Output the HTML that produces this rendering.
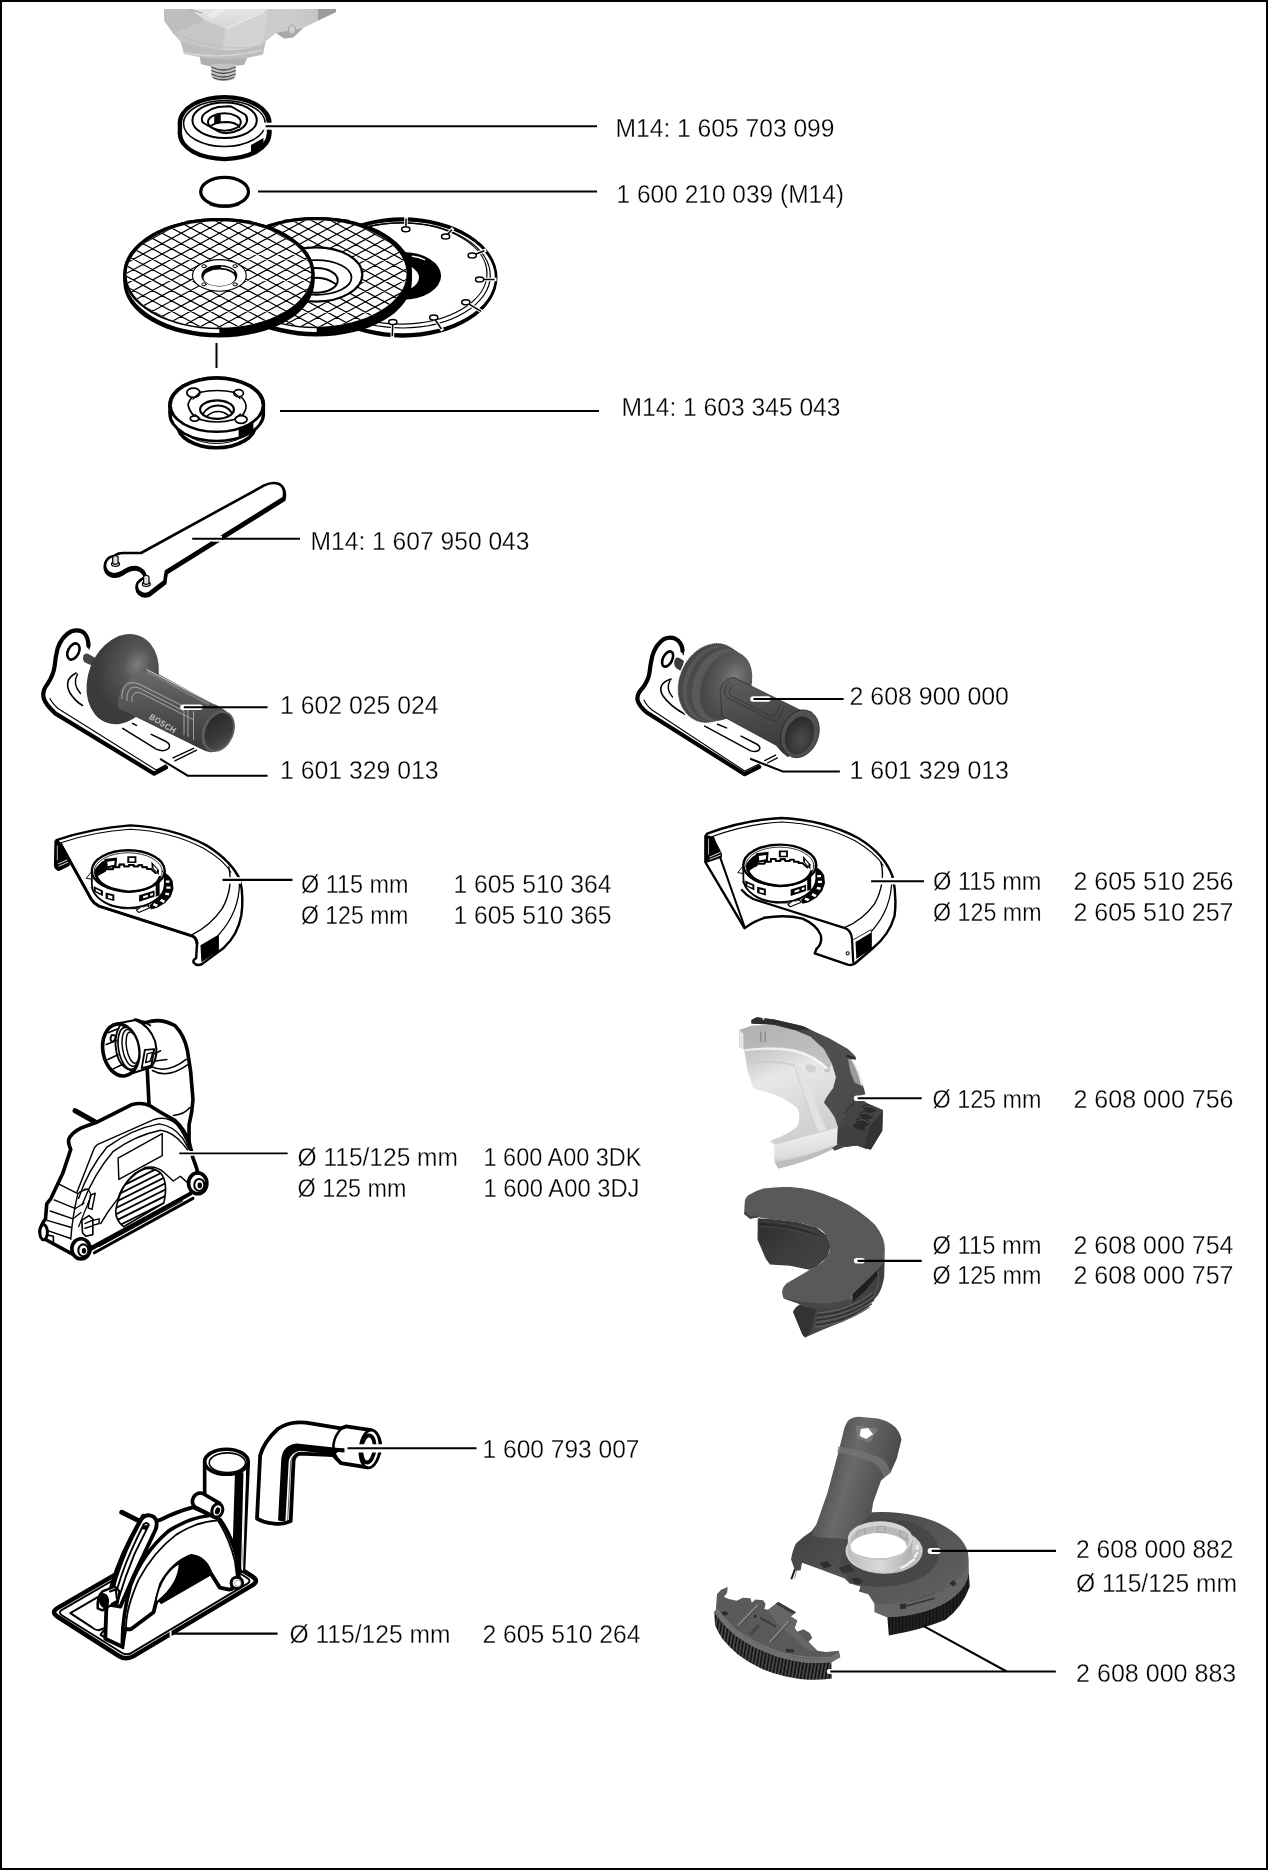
<!DOCTYPE html>
<html lang="en"><head><meta charset="utf-8"><title>Accessories</title>
<style>
html,body{margin:0;padding:0;background:#fff;}
svg{display:block;}
text{font-family:"Liberation Sans",sans-serif;font-size:26px;fill:#000;}
#labels text{stroke:#fff;stroke-width:0.3px;}
.ld{stroke:#000;stroke-width:2;fill:none;}
.k{stroke:#000;fill:none;stroke-linecap:round;stroke-linejoin:round;}
.w{stroke:#000;fill:#fff;stroke-linecap:round;stroke-linejoin:round;}
.b{fill:#000;stroke:none;}
</style></head><body>
<svg width="1268" height="1870" viewBox="0 0 1268 1870">
<rect x="0" y="0" width="1268" height="1870" fill="#fff"/>
<g id="gearhead">
<defs>
<linearGradient id="ghA" x1="0" y1="0" x2="1" y2="0"><stop offset="0" stop-color="#b4b4b4"/><stop offset="0.35" stop-color="#c8c8c8"/><stop offset="0.75" stop-color="#cdcdcd"/><stop offset="1" stop-color="#bebebe"/></linearGradient>
<linearGradient id="ghB" x1="0" y1="0" x2="0" y2="1"><stop offset="0" stop-color="#e4e4e4"/><stop offset="1" stop-color="#d6d6d6"/></linearGradient>
</defs>
<!-- lower flange -->
<path d="M180 40L184 54 200 57 201 64 211 66.500 244 65 247 58 263 54.500 266 40Z" fill="#bdbdbd"/>
<path d="M200 57Q222 62 247 58L244 65 211 66.500 201 64Z" fill="#b0b0b0"/>
<path d="M184 53Q222 60 263 50" stroke="#d6d6d6" stroke-width="1.500" fill="none"/>
<!-- thread -->
<path d="M211 64H236V74Q236 81 223.500 81Q211 81 211 74Z" fill="#c2c2c2"/>
<g stroke="#4d4d4d" stroke-width="1.300" fill="none">
<path d="M211.500 67Q223 73 235.500 67"/><path d="M211.500 70.500Q223 76.500 235.500 70.500"/><path d="M211.500 74Q223 80 235.500 74"/><path d="M213 77.500Q223 82 234 77.500"/>
</g>
<!-- main body -->
<path d="M164 9H336V12L303 28 298 33 293 37.500 284 38.500 276 33 266 41 262 45Q222 57 180 41L173 33 164.500 21Z" fill="url(#ghA)"/>
<path d="M318 9H336V12L318 20.500Z" fill="#9c9c9c"/>
<path d="M276 33L303 28 298 33 293 37.500 284 38.500Z" fill="#a9a9a9"/>
<ellipse cx="292" cy="29.500" rx="3.500" ry="4.500" fill="#cfcfcf" stroke="#a0a0a0" stroke-width="1"/>
<!-- facets -->
<path d="M190 9H268.500L263.500 12 225.700 29 205 20.500Z" fill="url(#ghB)"/>
<path d="M215 9H226L213 18 207 16Z" fill="#ececec"/>
<path d="M225.700 29L263.500 12 268.500 9 262 45Q240 51 222 50Z" fill="#d3d3d3"/>
<path d="M205 20.500L225.700 29 222 50Q198 47 180 41L173 33Z" fill="#c7c7c7"/>
<path d="M164 9H190L205 20.500 173 33 164.500 21Z" fill="#bebebe"/>
<path d="M226.500 28.600L263.500 12.300" stroke="#f4f4f4" stroke-width="1.600" stroke-dasharray="1.200 1" fill="none"/>
<path d="M173 33Q222 54 262 45" stroke="#a8a8a8" stroke-width="0.800" stroke-dasharray="1.500 1.500" fill="none"/>
<path d="M190 9.500L202 13" stroke="#a0a0a0" stroke-width="1.200"/>
</g>

<g id="flange">
<ellipse cx="224.650" cy="122.400" rx="46.900" ry="27.500" class="b"/><ellipse cx="224.650" cy="133.700" rx="46.900" ry="27.500" class="b"/><rect x="177.750" y="122.400" width="93.800" height="11.300" class="b"/>
<ellipse cx="224.400" cy="122.600" rx="42.300" ry="23.400" fill="#fff"/><ellipse cx="224.400" cy="133.500" rx="42.300" ry="23.400" fill="#fff"/><rect x="182.100" y="122.600" width="84.600" height="10.900" fill="#fff"/>
<!-- shaded side -->
<path d="M251 145L263.500 138V147.500L251 155Z" class="b"/>
<ellipse cx="224.400" cy="123.500" rx="40.900" ry="23" class="w" stroke-width="1.500"/>
<ellipse cx="224.600" cy="120.200" rx="32.200" ry="17.800" class="w" stroke-width="2"/>
<path d="M202 120.500Q201 116 206 112.500Q212 108 218 107L229 106.300Q231 106.300 233 107.500L245 114.500Q247.500 116.500 247 121Q246 126 240 129.500Q233 133 226 133.300Q221 133 218.500 131.500L203.500 123Q202.200 122 202 120.500Z" class="w" stroke-width="2"/>
<ellipse cx="224.400" cy="122" rx="16.400" ry="8.800" class="w" stroke-width="2"/>
<path d="M210.500 126.500Q214 122.500 225 122Q236 122 239.500 127" class="k" stroke-width="1.800"/>
<path d="M214.200 116.200Q217 114.800 220 114.500V122.200Q216 122.800 214.200 124.300Z" class="b"/>
<path d="M220 122.200V114.500" class="k" stroke-width="1.500"/>
<!-- leader halo + leader -->
<rect x="263" y="122.700" width="10" height="7" fill="#fff"/>
<path d="M265.500 126.200H597" class="ld" stroke-width="2.200"/>
</g>
<g id="oring">
<ellipse cx="224.600" cy="191.700" rx="23.900" ry="14.300" class="k" stroke-width="3.300"/>
<path d="M210 205.300Q224.600 210 239 205.300" class="k" stroke-width="0.800" stroke="#fff"/>
<path d="M258 191.500H597" class="ld" stroke-width="2.200"/>
</g>

<g id="disc3">
<ellipse cx="402.5" cy="277.5" rx="95" ry="60.2" class="b"/>
<ellipse cx="402.5" cy="277.3" rx="92.3" ry="55.9" fill="#fff"/>
<ellipse cx="402.5" cy="275.4" rx="87.8" ry="52.6" class="k" stroke-width="1.2"/>
<ellipse cx="401.0" cy="273.5" rx="86" ry="50.6" class="k" stroke-width="1.2"/>
<ellipse cx="402.5" cy="275.8" rx="38.6" ry="23.9" class="b"/>
<ellipse cx="394.5" cy="277.5" rx="24.5" ry="14.5" fill="#fff"/>
<path d="M412.5 256.3Q419.5 257 424.5 259.6" stroke="#fff" stroke-width="1.6" fill="none" stroke-linecap="round"/>
<path d="M405.8 229.2L406.1 216.6" stroke="#fff" stroke-width="3.6"/>
<path d="M405.8 229.2L406.1 218.6" stroke="#000" stroke-width="1.5"/>
<ellipse cx="405.8" cy="229.2" rx="4.1" ry="2.5" class="w" stroke-width="1.5"/>
<path d="M445.6 236.6L453.2 228.3" stroke="#fff" stroke-width="3.6"/>
<path d="M445.6 236.6L451.8 229.7" stroke="#000" stroke-width="1.5"/>
<ellipse cx="445.6" cy="236.6" rx="4.1" ry="2.5" class="w" stroke-width="1.5"/>
<path d="M472.2 255.5L486.2 250.0" stroke="#fff" stroke-width="3.6"/>
<path d="M472.2 255.5L484.4 250.8" stroke="#000" stroke-width="1.5"/>
<ellipse cx="472.2" cy="255.5" rx="4.1" ry="2.5" class="w" stroke-width="1.5"/>
<path d="M479.6 279.5L496.5 279.5" stroke="#fff" stroke-width="3.6"/>
<path d="M479.6 279.5L494.5 279.5" stroke="#000" stroke-width="1.5"/>
<ellipse cx="479.6" cy="279.5" rx="4.1" ry="2.5" class="w" stroke-width="1.5"/>
<path d="M465.8 302.2L482.9 312.3" stroke="#fff" stroke-width="3.6"/>
<path d="M465.8 302.2L481.1 311.3" stroke="#000" stroke-width="1.5"/>
<ellipse cx="465.8" cy="302.2" rx="4.1" ry="2.5" class="w" stroke-width="1.5"/>
<path d="M433.7 317.5L442.6 330.6" stroke="#fff" stroke-width="3.6"/>
<path d="M433.7 317.5L441.4 329.0" stroke="#000" stroke-width="1.5"/>
<ellipse cx="433.7" cy="317.5" rx="4.1" ry="2.5" class="w" stroke-width="1.5"/>
<path d="M392.8 321.9L392.3 338.2" stroke="#fff" stroke-width="3.6"/>
<path d="M392.8 321.9L392.3 336.2" stroke="#000" stroke-width="1.5"/>
<ellipse cx="392.8" cy="321.9" rx="4.1" ry="2.5" class="w" stroke-width="1.5"/>
</g>
<g id="disc2">
<ellipse cx="316.3" cy="272.6" rx="95.6" ry="55.6" class="b"/>
<ellipse cx="316.3" cy="281" rx="95.6" ry="55.6" class="b"/>
<rect x="220.70000000000002" y="272.6" width="191.2" height="8.4" class="b"/>
<clipPath id="d2l"><rect x="200" y="200" width="116.70000000000002" height="160"/></clipPath>
<ellipse cx="316.3" cy="276.4" rx="93.6" ry="55.6" fill="#fff" clip-path="url(#d2l)"/>
<ellipse cx="316.3" cy="272.6" rx="95.6" ry="55.6" class="b"/>
<ellipse cx="315.3" cy="273.5" rx="91.3" ry="53.2" fill="#fff"/>
<clipPath id="d2c"><ellipse cx="315.3" cy="273.5" rx="91.3" ry="53.2"/></clipPath>
<g clip-path="url(#d2c)"><path d="M221.3 119.2L411.3 222.8M221.3 129.6L411.3 233.2M221.3 140.0L411.3 243.6M221.3 150.4L411.3 254.0M221.3 160.8L411.3 264.4M221.3 171.2L411.3 274.8M221.3 181.6L411.3 285.2M221.3 192.0L411.3 295.6M221.3 202.4L411.3 306.0M221.3 212.8L411.3 316.4M221.3 223.2L411.3 326.8M221.3 233.6L411.3 337.2M221.3 244.0L411.3 347.6M221.3 254.4L411.3 358.0M221.3 264.8L411.3 368.4M221.3 275.2L411.3 378.8M221.3 285.6L411.3 389.2M221.3 296.0L411.3 399.6M221.3 306.4L411.3 410.0M221.3 316.8L411.3 420.4M221.3 327.2L411.3 430.8M221.3 224.4L411.3 120.8M221.3 234.8L411.3 131.2M221.3 245.2L411.3 141.6M221.3 255.6L411.3 152.0M221.3 266.0L411.3 162.4M221.3 276.4L411.3 172.8M221.3 286.8L411.3 183.2M221.3 297.2L411.3 193.6M221.3 307.6L411.3 204.0M221.3 318.0L411.3 214.4M221.3 328.4L411.3 224.8M221.3 338.8L411.3 235.2M221.3 349.2L411.3 245.6M221.3 359.6L411.3 256.0M221.3 370.0L411.3 266.4M221.3 380.4L411.3 276.8M221.3 390.8L411.3 287.2M221.3 401.2L411.3 297.6M221.3 411.6L411.3 308.0M221.3 422.0L411.3 318.4M221.3 432.4L411.3 328.8" stroke="#000" stroke-width="1.2" fill="none"/></g>
<ellipse cx="316.3" cy="274.5" rx="46" ry="27.1" class="w" stroke-width="2.2"/>
<ellipse cx="316.3" cy="277.5" rx="35.2" ry="17.3" class="w" stroke-width="1.8"/>
<ellipse cx="316.3" cy="280.4" rx="21.4" ry="12.3" class="w" stroke-width="2"/>
<path d="M297.3 285Q316.3 271 335.8 284" class="k" stroke-width="1.8"/>
</g>
<g id="disc1">
<ellipse cx="218.9" cy="273.6" rx="95.6" ry="55.6" class="b"/>
<ellipse cx="218.9" cy="282" rx="95.6" ry="55.6" class="b"/>
<rect x="123.30000000000001" y="273.6" width="191.2" height="8.4" class="b"/>
<clipPath id="d1l"><rect x="100" y="200" width="119.30000000000001" height="160"/></clipPath>
<ellipse cx="218.9" cy="277.4" rx="93.6" ry="55.6" fill="#fff" clip-path="url(#d1l)"/>
<ellipse cx="218.9" cy="273.6" rx="95.6" ry="55.6" class="b"/>
<ellipse cx="218.9" cy="274.5" rx="92.3" ry="53.2" fill="#fff"/>
<clipPath id="d1c"><ellipse cx="218.9" cy="274.5" rx="92.3" ry="53.2"/></clipPath>
<g clip-path="url(#d1c)"><path d="M123.9 118.8L313.9 222.3M123.9 129.2L313.9 232.7M123.9 139.6L313.9 243.1M123.9 150.0L313.9 253.5M123.9 160.4L313.9 263.9M123.9 170.8L313.9 274.3M123.9 181.2L313.9 284.7M123.9 191.6L313.9 295.1M123.9 202.0L313.9 305.5M123.9 212.4L313.9 315.9M123.9 222.8L313.9 326.3M123.9 233.2L313.9 336.7M123.9 243.6L313.9 347.1M123.9 254.0L313.9 357.5M123.9 264.4L313.9 367.9M123.9 274.8L313.9 378.3M123.9 285.2L313.9 388.7M123.9 295.6L313.9 399.1M123.9 306.0L313.9 409.5M123.9 316.4L313.9 419.9M123.9 326.8L313.9 430.3M123.9 222.8L313.9 119.3M123.9 233.2L313.9 129.7M123.9 243.6L313.9 140.1M123.9 254.0L313.9 150.5M123.9 264.4L313.9 160.9M123.9 274.8L313.9 171.3M123.9 285.2L313.9 181.7M123.9 295.6L313.9 192.1M123.9 306.0L313.9 202.5M123.9 316.4L313.9 212.9M123.9 326.8L313.9 223.3M123.9 337.2L313.9 233.7M123.9 347.6L313.9 244.1M123.9 358.0L313.9 254.5M123.9 368.4L313.9 264.9M123.9 378.8L313.9 275.3M123.9 389.2L313.9 285.7M123.9 399.6L313.9 296.1M123.9 410.0L313.9 306.5M123.9 420.4L313.9 316.9M123.9 430.8L313.9 327.3" stroke="#000" stroke-width="1.2" fill="none"/></g>
<ellipse cx="219.4" cy="275.4" rx="26.9" ry="15.8" class="w" stroke-width="1.1"/>
<ellipse cx="219.3" cy="275.7" rx="18" ry="10.8" class="b"/>
<ellipse cx="219.3" cy="277.8" rx="15.8" ry="8.3" fill="#fff"/>
<path d="M221 267.2Q229 267.6 234 271.5" stroke="#fff" stroke-width="1.2" fill="none"/>
<ellipse cx="204" cy="266.2" rx="2.2" ry="1.5" class="w" stroke-width="1"/>
<ellipse cx="235.1" cy="266.2" rx="2.2" ry="1.5" class="w" stroke-width="1"/>
<ellipse cx="204" cy="284.3" rx="2.2" ry="1.5" class="w" stroke-width="1"/>
<ellipse cx="235.1" cy="284.3" rx="2.2" ry="1.5" class="w" stroke-width="1"/>
</g>
<g id="nut">
<!-- neck -->
<ellipse cx="216.500" cy="424.600" rx="41" ry="25" class="b"/>
<ellipse cx="216.500" cy="422.500" rx="38.500" ry="23.500" fill="#fff"/>
<ellipse cx="216.500" cy="420.500" rx="38" ry="23" class="k" stroke-width="1"/>
<!-- body silhouette -->
<ellipse cx="216.700" cy="404.700" rx="48.400" ry="28.400" class="b"/>
<ellipse cx="216.700" cy="413.900" rx="48.400" ry="28.400" class="b"/>
<rect x="168.300" y="404.700" width="96.800" height="9.200" class="b"/>
<!-- side wall white -->
<ellipse cx="216.700" cy="413.600" rx="45.200" ry="26.200" fill="#fff"/>
<rect x="171.500" y="404.700" width="90.400" height="8.900" fill="#fff"/>
<path d="M238.600 428.500L253.400 421V431.500L238.600 438.500Z" class="b"/>
<!-- top face -->
<ellipse cx="216.700" cy="404.700" rx="48.400" ry="28.400" class="b"/>
<ellipse cx="216.700" cy="405.200" rx="44.900" ry="25.400" fill="#fff"/>
<!-- plate -->
<path d="M199 392.500Q217 388.500 235 392.500L241 396.500Q247 403 246 408Q244.500 414 240 417.500L234 419.500Q217 424.500 200 419.500L195 417Q189 411 188 404.500Q189 400.500 193 396Z" class="w" stroke-width="1.700"/>
<ellipse cx="193.400" cy="392.700" rx="6.600" ry="4.600" class="w" stroke-width="1.700"/>
<ellipse cx="238.600" cy="393.200" rx="4.800" ry="3.500" class="w" stroke-width="1.700"/>
<ellipse cx="194.500" cy="418.600" rx="4.200" ry="2.600" class="w" stroke-width="1.700"/>
<ellipse cx="241.100" cy="419.500" rx="6" ry="3.800" class="w" stroke-width="1.700"/>
<path d="M199.500 392.500Q195 397 193 399M234 392.500Q238 396 240 398.500M200 418.500Q197 416.500 195 414.500M235 418.500Q238 416.500 240.500 414" class="k" stroke-width="1.400" stroke="#fff"/>
<!-- centre hole -->
<ellipse cx="217" cy="409.600" rx="16.900" ry="9.200" class="w" stroke-width="2.200"/>
<path d="M203.500 413Q209 405.500 218 405.500Q227 405.500 231.500 412.500" class="k" stroke-width="1.800"/>
<path d="M207 416Q212 411.500 218 411.500Q224 411.500 228.500 415.500" class="k" stroke-width="1.600"/>
<path d="M280 411H599" class="ld" stroke-width="2.200"/>
</g>

<g id="wrench">
<path id="wrp" d="M264.200 485.400Q272 481.500 279 484Q286 487.500 283.500 497.800L166 571Q165 576 164.500 581L149 593Q143 595.500 139 591.500Q135.500 587.500 137.500 583Q141 578.500 146 577Q144 569 137 567.200Q130 566 122 572Q115 576 109.500 573Q103.500 569 105.500 562.500Q108 556.500 114 556Q118 552.500 125 553L141 553Z" fill="#000" stroke="#000" stroke-width="3.600" stroke-linejoin="round" transform="translate(0.300 2)"/>
<path d="M264.200 485.400Q272 481.500 279 484Q286 487.500 283.500 497.800L166 571Q165 576 164.500 581L149 593Q143 595.500 139 591.500Q135.500 587.500 137.500 583Q141 578.500 146 577Q144 569 137 567.200Q130 566 122 572Q115 576 109.500 573Q103.500 569 105.500 562.500Q108 556.500 114 556Q118 552.500 125 553L141 553Z" fill="#fff" stroke="#000" stroke-width="2.600" stroke-linejoin="round"/>
<!-- pins -->
<ellipse cx="115.500" cy="564" rx="4" ry="2.400" class="w" stroke-width="1.200"/>
<path d="M112.700 557.500Q112.700 555.700 115.400 555.700Q118.100 555.700 118.100 557.500V563.600Q115.400 565.200 112.700 563.600Z" fill="#ddd" stroke="#000" stroke-width="1.200"/>
<ellipse cx="146.300" cy="584" rx="4" ry="2.400" class="w" stroke-width="1.200"/>
<path d="M143.600 577.300Q143.600 575.500 146.300 575.500Q149 575.500 149 577.300V583.500Q146.300 585.100 143.600 583.500Z" fill="#ddd" stroke="#000" stroke-width="1.200"/>
<rect x="212" y="535.700" width="10" height="6" fill="#fff"/>
<path d="M192.200 538.700H300" class="ld" stroke-width="2.200"/>
</g>

<g id="handle1">
<defs>
<radialGradient id="h1f" cx="0.62" cy="0.3" r="0.55"><stop offset="0" stop-color="#7d7d7d"/><stop offset="0.35" stop-color="#565656"/><stop offset="1" stop-color="#3b3b3b"/></radialGradient>
<linearGradient id="h1g" x1="0" y1="0" x2="0" y2="1"><stop offset="0" stop-color="#6a6a6a"/><stop offset="0.35" stop-color="#585858"/><stop offset="1" stop-color="#3a3a3a"/></linearGradient>
<linearGradient id="h1e" x1="0" y1="0" x2="1" y2="1"><stop offset="0" stop-color="#262626"/><stop offset="0.6" stop-color="#3a3a3a"/><stop offset="1" stop-color="#555"/></linearGradient>
</defs>
<!-- bracket -->
<path d="M88.500 646Q88.500 638 84.200 633Q79 628.500 71 631.500Q62 636 57.600 648.500Q55.500 657 54.600 666.300Q53.500 675 47.500 684Q41.500 691.500 44 699Q46 705 55.600 713.600L154.200 773.700 166 767.500" class="k" stroke-width="4.200"/>
<path d="M88.500 646Q88.500 638 84.200 633" class="k" stroke-width="1.300" stroke="#fff"/>
<path d="M89.100 649Q89.400 639 84.200 633" class="k" stroke-width="1.300"/>
<path d="M50 698.500Q52 703 58 708.500L156.200 770 166 764.800" class="k" stroke-width="1.100"/>
<ellipse cx="73.400" cy="651.500" rx="5.400" ry="8.600" transform="rotate(27 73.400 651.500)" class="w" stroke-width="2.600"/>
<path d="M76 673Q63 680 70 693Q75 701 82.500 705.500" class="k" stroke-width="1.600"/>
<path d="M77.500 674Q72 684 80.500 693.500" class="k" stroke-width="1.400"/>
<path d="M122.700 728.400L156.200 749.100Q164 752.500 168.500 748.500Q171.500 744.500 166 741.500L151.300 734.300" class="k" stroke-width="1.500"/>
<path d="M132.500 723.400L136.500 725.400" class="k" stroke-width="1.500"/>
<path d="M174.900 760.900L196.600 750.100M172.900 757.900L193.600 748.300" class="k" stroke-width="1.300"/>
<!-- stud -->
<path d="M83.500 655.500Q85 652.500 88.500 654L98 659.500 95 667 85 662.500Q82 660 83.500 655.500Z" fill="#454545"/>
<!-- grip body -->
<path d="M140 664L213.400 703.700Q222 707 227 712L212 752.500Q206 752 200 748.500L116 707Z" fill="url(#h1g)"/>
<!-- flange -->
<ellipse cx="122.700" cy="679.100" rx="34.500" ry="46.500" transform="rotate(21 122.700 679.100)" fill="url(#h1f)"/>
<path d="M118 700Q121 684 130 679Q142 671 150 672L213 704 200 748 118 708Z" fill="url(#h1g)"/>
<path d="M146.500 669.500L213.400 703.700" stroke="#e8e8e8" stroke-width="0.900" fill="none"/>
<path d="M146.500 671.500L209 704.300" stroke="#777" stroke-width="2.500" fill="none"/>
<!-- groove pattern -->
<g stroke="#c9c9c9" stroke-width="0.700" fill="none">
<path d="M122 699Q121 688 128 683.500Q133 681.500 138 683.500L188 708.500V737"/>
<path d="M127 701Q126 692 131 688Q135 686 139 688L184 711V735"/>
<path d="M132 702Q131 696 135 693Q138 691.500 142 693.500L193 719.500"/>
<path d="M193.500 711V740"/>
</g>
<text transform="translate(148.500 718.500) rotate(31) scale(0.920 1)" style="font-size:8.500px;font-weight:bold;fill:#bdbdbd;letter-spacing:0.300px">BOSCH</text>
<!-- end -->
<ellipse cx="218.300" cy="731.300" rx="15.500" ry="21.500" transform="rotate(24 218.300 731.300)" fill="#5e5e5e"/>
<ellipse cx="218.800" cy="731.500" rx="13.200" ry="19.200" transform="rotate(24 218.800 731.500)" fill="url(#h1e)"/>
<!-- leaders -->
<path d="M183 707.300H200" stroke="#fff" stroke-width="5.500" stroke-linecap="round"/>
<path d="M183.800 707.300H267.600" class="ld" stroke-width="2.200"/>
<path d="M160.100 758.900L187.700 775.700H267.600" class="ld" stroke-width="2.200" stroke-linejoin="miter"/>
</g>

<g id="handle2">
<defs>
<radialGradient id="h2f" cx="0.6" cy="0.35" r="0.6"><stop offset="0" stop-color="#7c7c7c"/><stop offset="0.45" stop-color="#5c5c5c"/><stop offset="1" stop-color="#484848"/></radialGradient>
<linearGradient id="h2g" x1="0" y1="0" x2="0.300" y2="1"><stop offset="0" stop-color="#5f5f5f"/><stop offset="0.5" stop-color="#4c4c4c"/><stop offset="1" stop-color="#3a3a3a"/></linearGradient>
<radialGradient id="h2e" cx="0.6" cy="0.6" r="0.6"><stop offset="0" stop-color="#4c4c4c"/><stop offset="1" stop-color="#2b2b2b"/></radialGradient>
</defs>
<!-- bracket -->
<path d="M682.500 651Q682.500 645 678 640.500Q672 635.500 664 639Q656 644 652.200 656.300Q650.500 664 649.500 672.600Q648.500 680 643 687.500Q636.500 694 637.500 700Q639 706 646.800 712.500L744.700 774.200 759.200 766.900" class="k" stroke-width="4.200"/>
<path d="M682.500 651Q682.500 645 678 640.500" class="k" stroke-width="1.300" stroke="#fff"/>
<path d="M683.300 654.500Q683.500 646 678 640.500" class="k" stroke-width="1.300"/>
<path d="M644 700Q646 705 652 710L744.700 771 759.200 764" class="k" stroke-width="1.100"/>
<ellipse cx="667.600" cy="659" rx="4.600" ry="8.200" transform="rotate(27 667.600 659)" class="w" stroke-width="2.600"/>
<path d="M671 679Q656 684 663 696Q670 706 685 714.300" class="k" stroke-width="1.600"/>
<path d="M670 680.500Q665.500 689 672.500 697" class="k" stroke-width="1.400"/>
<path d="M704.800 726.100L750.200 750.600Q757 753 759.500 749.500Q761 746 755.600 743.500L741.100 736.100" class="k" stroke-width="1.500"/>
<path d="M717.500 724.300L726.600 727.900" class="k" stroke-width="1.500"/>
<path d="M764.700 760.600L775.600 755.100M767.400 763L777.400 757.900" class="k" stroke-width="1.300"/>
<!-- stud -->
<path d="M675 659Q676.500 656.500 679.500 658L684 661 681.500 671.500 676 668Q673 664.500 675 659Z" fill="#3a3a3a"/>
<!-- handle body with halo -->
<g stroke="#fff" stroke-width="3.200" stroke-linejoin="round">
<ellipse cx="711.500" cy="683" rx="32" ry="40.500" transform="rotate(22 711.500 683)" fill="#fff"/>
<path d="M724 676L799 709.500 776 745 722 716Z" fill="#fff"/>
<ellipse cx="800" cy="733.800" rx="18.500" ry="24.500" transform="rotate(20 800 733.800)" fill="#fff"/>
</g>
<g stroke="#222" stroke-width="0.700" stroke-dasharray="1.200 0.800">
<ellipse cx="711.500" cy="683" rx="32" ry="40.500" transform="rotate(22 711.500 683)" fill="#474747"/>
</g>
<ellipse cx="714" cy="683.500" rx="30" ry="39.500" transform="rotate(22 714 683.500)" fill="#565656"/>
<ellipse cx="717" cy="684" rx="28.500" ry="38.500" transform="rotate(22 717 684)" fill="#4a4a4a"/>
<ellipse cx="720.500" cy="685" rx="27" ry="37.500" transform="rotate(22 720.500 685)" fill="#5a5a5a"/>
<ellipse cx="726" cy="686" rx="24.500" ry="35.500" transform="rotate(22 726 686)" fill="url(#h2f)"/>
<path d="M720 690Q724 678 734 677.500L799 709.500Q806 713 812 712L788 757Q781 752 776 745.200L722 716Z" fill="url(#h2g)" stroke="#222" stroke-width="0.600"/>
<path d="M730 681Q726 684 724.500 692Q724.500 696 728 698L772 720.500Q777 721.500 779 718L784 706.500" stroke="#333" stroke-width="0.800" fill="none"/>
<path d="M733 685Q730 687 729 692.500Q729.500 695 732 696.500L771 716Q774.500 717 776 714L780 705" stroke="#333" stroke-width="0.800" fill="none"/>
<ellipse cx="800" cy="733.800" rx="18.500" ry="24.500" transform="rotate(20 800 733.800)" fill="#505050" stroke="#222" stroke-width="0.700"/>
<ellipse cx="799.500" cy="735.500" rx="14" ry="19.500" transform="rotate(20 799.500 735.500)" fill="url(#h2e)"/>
<!-- leaders -->
<path d="M753 698.900H768" stroke="#fff" stroke-width="5.500" stroke-linecap="round"/>
<path d="M753.500 698.900H843.600" class="ld" stroke-width="2.200"/>
<path d="M750.200 758.800L782.800 771.500H839.900" class="ld" stroke-width="2.200"/>
</g>

<g id="guard1" transform="translate(40 815) scale(0.173502)">
<!-- side wall silhouette -->
<path d="M95 145Q300 75 520 60Q760 70 960 175Q1110 270 1155 380Q1175 480 1160 580Q1140 690 1060 765L935 858Q905 875 885 850Q880 835 900 825L905 740Q900 700 870 695L340 525Q310 510 295 485L120 170Z" fill="#fff" stroke="#000" stroke-width="14" stroke-linejoin="round"/>
<!-- black patch on wall -->
<path d="M925 750L1028 690V785L930 848Z" class="b"/>
<path d="M1028 690V785" stroke="#000" stroke-width="6" fill="none"/>
<!-- wall lines -->
<path d="M1150 385Q1150 560 1030 690" class="k" stroke-width="7"/>
<path d="M1088 300Q1115 420 1050 540Q980 640 880 688" class="k" stroke-width="8"/>
<!-- top rim inner thin line -->
<path d="M120 160Q310 95 520 82Q750 92 940 190Q1060 260 1100 330" class="k" stroke-width="6"/>
<!-- left flap -->
<path d="M88 150L120 165 168 255 166 290 108 318Q88 312 85 292Z" fill="#000" stroke="#000" stroke-width="10" stroke-linejoin="round"/>
<path d="M104 282L160 258M106 296L162 272" stroke="#fff" stroke-width="5" fill="none"/>
<path d="M100 175V262" stroke="#fff" stroke-width="4" fill="none"/>
<!-- cut edge inner line (plate thickness) -->
<path d="M120 170L295 485Q310 510 340 525L870 695Q900 700 905 740" class="k" stroke-width="17"/>
<!-- collar ring -->
<g id="ringA" transform="translate(230.500 144.100) scale(0.454540)">
<!-- gear teeth -->
<path d="M1040 400Q1130 430 1175 520L1185 620 1150 720 1080 800 980 860 900 880 880 830 960 760 1020 640 1040 520Z" class="b"/>
<g fill="#fff"><path d="M1085 515h50v28h-50zM1095 590h52v28h-52zM1085 665l48 10-8 30-48-12zM1030 745l50 25-20 28-48-25zM940 800l50 20-18 30-50-22z"/></g>
<path d="M715 890L830 800 885 860 745 918Z" class="w" stroke-width="14"/>
<path d="M800 850L870 830" class="k" stroke-width="10"/>
<!-- left tab -->
<path d="M82 482L142 408 152 492Z" class="w" stroke-width="12"/>
<!-- outer wall -->
<path d="M150 390V560A462 300 0 0 0 1075 560V390Z" fill="#fff" stroke="#000" stroke-width="22"/>
<path d="M140 600Q200 760 400 840Q560 890 720 870" class="k" stroke-width="12"/>
<!-- front windows -->
<path d="M175 585L290 640V712L175 652Z" class="b"/><path d="M200 622L265 652V678L200 648Z" fill="#fff"/>
<path d="M325 665L435 690V775L325 745Z" class="b"/><path d="M355 698L410 710V748L355 735Z" fill="#fff"/>
<path d="M750 700L945 640V720L750 782Z" class="b"/><path d="M800 712L860 694V722L800 740ZM890 682L925 672V700L890 710Z" fill="#fff"/>
<path d="M960 500H1010V700L960 720Z" class="b"/>
<!-- top rim -->
<ellipse cx="612" cy="390" rx="462" ry="260" class="w" stroke-width="30"/>
<ellipse cx="612" cy="398" rx="432" ry="236" class="k" stroke-width="10"/>
<clipPath id="g1ring"><ellipse cx="612" cy="398" rx="430" ry="234"/></clipPath>
<g clip-path="url(#g1ring)">
<!-- back wall dark left -->
<path d="M150 480Q180 330 320 250L330 400Q250 440 215 500Z" class="b"/>
<path d="M310 240L470 222 462 335 322 362Z" class="b"/><path d="M345 275L440 262 435 315 352 332Z" fill="#fff"/>
<path d="M600 205H715V292H600Z" class="b"/><path d="M625 228H692V272H625Z" fill="#fff"/>
<path d="M905 272L1000 380V445L910 352Z" class="b"/><path d="M930 320L975 372V405L932 356Z" fill="#fff"/>
<!-- crenellation -->
<path d="M300 395L330 370H420V345H500V310H560V335H620V315H680V335H740V320H790V345H850V365H900L960 420" class="k" stroke-width="22" stroke-linejoin="miter"/>
</g>
<!-- hole front edge -->
<path d="M215 470Q300 380 612 360Q900 372 1005 478Q940 640 612 655Q300 640 215 470Z" fill="#fff"/>
<path d="M300 395L330 372H420V347H500V312H560V337H620V317H680V337H740V322H790V347H850V367H900L960 420" class="k" stroke-width="20" stroke-linejoin="miter"/>
<path d="M205 450Q260 620 612 655Q950 640 1012 470" class="k" stroke-width="32"/>
</g>

<path d="M1080 358H1160V396H1080Z" fill="#fff"/>
<path d="M1052 374H1455" stroke="#000" stroke-width="12"/>
</g>

<g id="guard2" transform="translate(695 805) scale(0.173502)">
<path d="M70 165Q290 85 500 75Q740 85 940 190Q1090 280 1138 410Q1165 520 1150 640Q1120 750 1020 830L920 915Q900 925 880 920L690 855 700 830Q735 800 725 750Q700 690 620 655Q520 630 400 650Q340 670 300 700L285 710 60 330V180Z" fill="#fff" stroke="#000" stroke-width="14" stroke-linejoin="round"/>
<!-- black patch -->
<path d="M925 790L1016 735V830L930 888Z" class="b"/>
<path d="M1016 735V830" stroke="#000" stroke-width="6" fill="none"/>
<path d="M915 775L1016 718" class="k" stroke-width="5"/>
<!-- wall lines -->
<path d="M1135 420Q1135 600 1016 730" class="k" stroke-width="7"/>
<path d="M1072 330Q1100 450 1035 570Q965 665 865 705" class="k" stroke-width="8"/>
<path d="M100 182Q300 108 500 98Q730 108 920 205Q1040 275 1085 350" class="k" stroke-width="6"/>
<!-- fold edge -->
<path d="M270 490Q300 525 335 542L860 708Q900 720 905 770L912 905" class="k" stroke-width="13"/>

<circle cx="880" cy="855" r="9" class="w" stroke-width="6"/>
<!-- left edge of cover -->
<path d="M105 188L287 706" class="k" stroke-width="12"/>
<!-- left flap -->
<path d="M62 178L102 186 150 280 150 300 62 330Z" fill="#000" stroke="#000" stroke-width="10" stroke-linejoin="round"/>
<path d="M84 300L148 272M84 314L148 288" stroke="#fff" stroke-width="5" fill="none"/>
<path d="M78 195V285" stroke="#fff" stroke-width="4" fill="none"/>
<g transform="translate(-20 25)">
<g id="ringB" transform="translate(230.500 144.100) scale(0.454540)">
<!-- gear teeth -->
<path d="M1040 400Q1130 430 1175 520L1185 620 1150 720 1080 800 980 860 900 880 880 830 960 760 1020 640 1040 520Z" class="b"/>
<g fill="#fff"><path d="M1085 515h50v28h-50zM1095 590h52v28h-52zM1085 665l48 10-8 30-48-12zM1030 745l50 25-20 28-48-25zM940 800l50 20-18 30-50-22z"/></g>
<path d="M715 890L830 800 885 860 745 918Z" class="w" stroke-width="14"/>
<path d="M800 850L870 830" class="k" stroke-width="10"/>
<!-- left tab -->
<path d="M82 482L142 408 152 492Z" class="w" stroke-width="12"/>
<!-- outer wall -->
<path d="M150 390V560A462 300 0 0 0 1075 560V390Z" fill="#fff" stroke="#000" stroke-width="22"/>
<path d="M140 600Q200 760 400 840Q560 890 720 870" class="k" stroke-width="12"/>
<!-- front windows -->
<path d="M175 585L290 640V712L175 652Z" class="b"/><path d="M200 622L265 652V678L200 648Z" fill="#fff"/>
<path d="M325 665L435 690V775L325 745Z" class="b"/><path d="M355 698L410 710V748L355 735Z" fill="#fff"/>
<path d="M750 700L945 640V720L750 782Z" class="b"/><path d="M800 712L860 694V722L800 740ZM890 682L925 672V700L890 710Z" fill="#fff"/>
<path d="M960 500H1010V700L960 720Z" class="b"/>
<!-- top rim -->
<ellipse cx="612" cy="390" rx="462" ry="260" class="w" stroke-width="30"/>
<ellipse cx="612" cy="398" rx="432" ry="236" class="k" stroke-width="10"/>
<clipPath id="g2ring"><ellipse cx="612" cy="398" rx="430" ry="234"/></clipPath>
<g clip-path="url(#g2ring)">
<!-- back wall dark left -->
<path d="M150 480Q180 330 320 250L330 400Q250 440 215 500Z" class="b"/>
<path d="M310 240L470 222 462 335 322 362Z" class="b"/><path d="M345 275L440 262 435 315 352 332Z" fill="#fff"/>
<path d="M600 205H715V292H600Z" class="b"/><path d="M625 228H692V272H625Z" fill="#fff"/>
<path d="M905 272L1000 380V445L910 352Z" class="b"/><path d="M930 320L975 372V405L932 356Z" fill="#fff"/>
<!-- crenellation -->
<path d="M300 395L330 370H420V345H500V310H560V335H620V315H680V335H740V320H790V345H850V365H900L960 420" class="k" stroke-width="22" stroke-linejoin="miter"/>
</g>
<!-- hole front edge -->
<path d="M215 470Q300 380 612 360Q900 372 1005 478Q940 640 612 655Q300 640 215 470Z" fill="#fff"/>
<path d="M300 395L330 372H420V347H500V312H560V337H620V317H680V337H740V322H790V347H850V367H900L960 420" class="k" stroke-width="20" stroke-linejoin="miter"/>
<path d="M205 450Q260 620 612 655Q950 640 1012 470" class="k" stroke-width="32"/>
</g>
</g>
<path d="M1050 420H1160V458H1050Z" fill="#fff"/>
<path d="M1015 439H1320" stroke="#000" stroke-width="12"/>
</g>

<g id="dustguard">
<!-- upper part: elbow -->
<g transform="translate(25 1005) scale(0.157729)">
<!-- pipe body -->
<path d="M700 95Q760 115 770 110Q860 80 950 130Q1010 190 1030 290L1050 420 1065 600Q1060 680 1040 760V900H800L775 410Z" fill="#fff" stroke="#000" stroke-width="23" stroke-linejoin="round"/>
<!-- collar -->
<path d="M560 122L700 95Q790 130 825 230Q850 330 800 395L640 445Z" fill="#fff" stroke="#000" stroke-width="13" stroke-linejoin="round"/>
<ellipse cx="607" cy="285" rx="113" ry="166" transform="rotate(-10 607 285)" class="w" stroke-width="23"/>
<ellipse cx="655" cy="275" rx="62" ry="135" transform="rotate(-10 655 275)" class="w" stroke-width="10.4"/>
<ellipse cx="668" cy="272" rx="50" ry="118" transform="rotate(-10 668 272)" class="w" stroke-width="9.1"/>
<ellipse cx="682" cy="270" rx="38" ry="100" transform="rotate(-10 682 270)" class="w" stroke-width="9.1"/>
<path d="M600 135Q560 200 580 300Q600 400 690 420" class="k" stroke-width="11.7"/>
<path d="M515 250L580 225M525 345L590 315M560 405L620 375M530 175L590 150" class="k" stroke-width="10.4"/>
<path d="M550 190Q535 215 550 235Q575 225 575 195Z" class="k" stroke-width="11.7"/>
<!-- latch -->
<path d="M760 285L820 280 800 385 740 400Z" class="w" stroke-width="11.7"/>
<path d="M775 310L810 300 795 355 765 365Z" class="k" stroke-width="9.1"/>
<path d="M820 310L860 290M825 355L900 345" class="k" stroke-width="9.1"/>
<path d="M760 110L795 130" class="k" stroke-width="10.4"/>
<!-- ring below elbow -->
<path d="M800 390Q900 440 1022 345" class="k" stroke-width="10.4"/>
<path d="M808 415Q905 470 1030 380" class="k" stroke-width="10.4"/>
<path d="M940 700Q1010 695 1045 650" class="k" stroke-width="9.1"/>
<!-- stud -->
<path d="M318 670L445 742" stroke="#000" stroke-width="33" stroke-linecap="round"/>
</g>
<!-- lower part: housing -->
<g transform="translate(25 1110) scale(0.157729)">
<path d="M450 80L680 -35Q740 -50 790 -28Q880 30 950 65Q1010 120 1040 200L1050 240Q1060 300 1085 360L1100 410 1050 530 420 880 330 930 110 810 95 770Q100 730 130 690L138 595 165 560 240 400 290 250Q265 200 285 170Q320 125 380 105Z" fill="#fff" stroke="#000" stroke-width="23" stroke-linejoin="round"/>
<!-- contours -->
<path d="M330 520L440 240Q455 215 480 210L820 60Q900 35 960 90Q1010 150 1040 240" class="k" stroke-width="9.1"/>
<path d="M340 560Q400 380 520 235Q680 120 850 88Q940 100 1000 180L1040 250" class="k" stroke-width="9.1"/>
<path d="M362 600Q440 400 560 262Q700 160 860 128Q940 140 1000 215L1030 252" class="k" stroke-width="9.1"/>
<path d="M590 305L870 150V290L595 440Z" class="w" stroke-width="9.1"/>
<!-- vent -->
<clipPath id="dgv"><path d="M575 640Q600 480 700 400Q790 340 860 400Q910 460 880 590L625 740Q575 700 575 640Z"/></clipPath>
<path d="M575 640Q600 480 700 400Q790 340 860 400Q910 460 880 590L625 740Q575 700 575 640Z" class="w" stroke-width="10.4"/>
<g clip-path="url(#dgv)" stroke="#000" stroke-width="11.7">
<path d="M560 470L920 290M560 510L920 330M560 550L920 370M560 590L920 410M560 630L920 450M560 670L920 490M560 710L920 530M560 750L920 570"/>
</g>
<path d="M480 720L530 640 590 560Q620 450 760 365Q830 350 880 395L940 450 985 420 1040 470" class="k" stroke-width="9.1"/>
<!-- base -->
<path d="M420 870L1045 530M440 905L1065 560" class="k" stroke-width="19"/>
<path d="M470 865L1000 575" class="k" stroke-width="6.5"/>
<!-- ribs -->
<path d="M215 470L335 530M185 570L320 625M160 640L305 690M140 700L295 745M130 760L290 815M335 530Q300 680 290 820" class="k" stroke-width="9.1"/>
<path d="M335 530L385 500M320 625L375 590M305 690L355 650M345 520L400 500 420 540 380 640 340 740" class="k" stroke-width="7.8"/>
<path d="M415 540L445 528 425 630 400 620Z" class="k" stroke-width="9.1"/>
<path d="M360 700L405 670 430 690V790L385 800 365 780Z" class="w" stroke-width="10.4"/>
<path d="M380 720L425 700M380 750L428 735M430 700L470 690 470 720 435 730" class="k" stroke-width="9.1"/>
<path d="M130 790L180 800V840" class="k" stroke-width="10.4"/>
<!-- wheels -->
<ellipse cx="1095" cy="465" rx="58" ry="66" class="w" stroke-width="23"/>
<ellipse cx="1105" cy="475" rx="32" ry="38" class="w" stroke-width="13"/>
<ellipse cx="1108" cy="478" rx="14" ry="18" fill="#000"/>
<ellipse cx="355" cy="880" rx="58" ry="64" class="w" stroke-width="23"/>
<ellipse cx="370" cy="890" rx="32" ry="38" class="w" stroke-width="13"/>
<ellipse cx="374" cy="893" rx="14" ry="18" fill="#000"/>
<ellipse cx="118" cy="775" rx="24" ry="48" class="w" stroke-width="19"/>
<path d="M1030 275H1075" stroke="#fff" stroke-width="30"/>
<path d="M978 275H1665" stroke="#000" stroke-width="12.500"/>
</g>
</g>

<g id="guard3dA" transform="translate(730 1010) scale(0.134070)">
<defs>
<linearGradient id="gaL" x1="0" y1="0" x2="0.300" y2="1"><stop offset="0" stop-color="#a2a2a2"/><stop offset="0.25" stop-color="#c8c8c8"/><stop offset="0.5" stop-color="#e8e8e8"/><stop offset="1" stop-color="#d0d0d0"/></linearGradient>
<linearGradient id="gaD" x1="0" y1="0" x2="1" y2="1"><stop offset="0" stop-color="#353535"/><stop offset="0.4" stop-color="#505050"/><stop offset="1" stop-color="#464646"/></linearGradient>
<linearGradient id="gaB" x1="0" y1="0" x2="0.200" y2="1"><stop offset="0" stop-color="#f4f4f4"/><stop offset="0.7" stop-color="#dedede"/><stop offset="1" stop-color="#b5b5b5"/></linearGradient>
</defs>
<!-- light interior -->
<path d="M70 150L160 118 330 110 480 150 600 200 700 290 760 400 790 500 770 580 720 650 700 690 740 740 780 800 805 880 330 1010 300 990 310 970Q430 930 500 870Q535 800 500 730Q430 670 330 630L230 600Q175 590 170 575L130 450 105 290 70 275Z" fill="url(#gaL)"/>
<path d="M70 150L160 118 330 110 480 150 600 200 700 290 760 400 740 440Q640 330 480 290Q300 260 110 290L70 275Z" fill="#b4b4b4" opacity="0.750"/>
<path d="M110 300Q300 275 480 305Q640 345 735 450" stroke="#fafafa" stroke-width="16" fill="none" opacity="0.800"/>
<path d="M150 400Q320 370 480 410L560 640Q600 780 660 900" stroke="#cdcdcd" stroke-width="12" fill="none"/>
<path d="M520 400Q600 520 640 700Q680 820 720 890L660 910Q600 780 560 640L480 410Z" fill="#e2e2e2"/>
<path d="M560 410Q600 395 640 425Q650 465 600 470Q560 455 560 410Z" fill="#d2d2d2"/>
<ellipse cx="725" cy="450" rx="22" ry="14" fill="#c4c4c4"/>
<path d="M70 150L100 175V285L70 275Z" fill="#e6e6e6"/>
<path d="M230 165V235M262 165V235" stroke="#555" stroke-width="5"/>
<path d="M215 165H280M215 238H280" stroke="#999" stroke-width="3"/>
<!-- bottom band -->
<path d="M300 978L335 1005 805 878 800 1000 760 1040Q620 1110 480 1150L360 1182 330 1130 322 1010Z" fill="url(#gaB)"/>
<path d="M300 978L335 1005 330 1130 322 1012Z" fill="#fafafa"/>
<path d="M335 1135Q560 1100 770 1010L760 1040Q620 1110 480 1150L360 1182Z" fill="#bdbdbd"/>
<!-- dark band -->
<path d="M160 75L200 55 330 70 540 120 740 210 880 290 935 345 940 372 905 365 960 470 1000 590 1010 628 950 645 1030 700 1140 745 1135 900 1050 1040 1000 1030 950 1010 860 1020 780 1050 760 1030 805 1000 805 875 780 800 740 740 700 690 720 650 770 580 790 500 760 400 700 290 600 200 480 150 330 110 160 100Z" fill="url(#gaD)"/>
<path d="M160 75L200 55 330 70 540 120 600 145 480 150 330 110 160 100Z" fill="#2e2e2e"/>
<circle cx="250" cy="66" r="8" fill="#eee"/>
<!-- light strip on right -->
<path d="M880 368L915 365 965 470 990 570 930 540 900 470Z" fill="#9a9a9a"/>
<path d="M912 372Q960 450 985 560" stroke="#f2f2f2" stroke-width="14" fill="none"/>
<path d="M870 340L935 362" stroke="#222" stroke-width="14"/>
<!-- block -->
<path d="M950 660L1030 700 1140 745 1135 900 1050 1040 1000 1030 950 1010 860 1020 800 1000 805 875Z" fill="#444"/>
<path d="M1040 870L1138 760 1135 900 1050 1040 1000 1030Z" fill="#333"/>
<path d="M860 870L1040 880 1000 1030 950 1010 860 1020 800 1000 805 880Z" fill="#3f3f3f"/>
<g fill="#2a2a2a"><ellipse cx="1040" cy="735" rx="50" ry="28" transform="rotate(15 1040 735)"/><ellipse cx="1015" cy="785" rx="52" ry="28" transform="rotate(15 1015 785)"/><ellipse cx="990" cy="835" rx="52" ry="28" transform="rotate(15 990 835)"/><ellipse cx="965" cy="870" rx="48" ry="22" transform="rotate(15 965 870)"/></g>
<g fill="none" stroke="#5c5c5c" stroke-width="7"><path d="M1000 725Q1040 705 1085 740"/><path d="M975 775Q1015 755 1062 790"/><path d="M948 825Q990 805 1036 842"/></g>
<path d="M855 770L925 690" stroke="#222" stroke-width="12" stroke-dasharray="6 5"/>
<!-- leader -->
<path d="M945 658H985" stroke="#fff" stroke-width="42" stroke-linecap="round"/>
<path d="M952 658H1430" stroke="#000" stroke-width="16"/>
</g>

<g id="guard3dB" transform="translate(730 1175) scale(0.134070)">
<defs>
<linearGradient id="gbC" x1="0" y1="0" x2="1" y2="1"><stop offset="0" stop-color="#2c2c2c"/><stop offset="0.5" stop-color="#3c3c3c"/><stop offset="1" stop-color="#444"/></linearGradient>
<linearGradient id="gbS" x1="0" y1="0" x2="0" y2="1"><stop offset="0" stop-color="#3a3a3a"/><stop offset="1" stop-color="#484848"/></linearGradient>
</defs>
<!-- side wall -->
<path d="M1155 560L1150 760Q1135 850 1100 900Q1050 960 1000 1000Q930 1050 850 1090L700 1150 560 1212 540 1190 470 1020 490 990 520 965 900 960 910 885 1150 640Z" fill="url(#gbS)"/>
<path d="M470 1020L490 990 520 965 560 985 640 1000 610 1160 560 1212 540 1190Z" fill="#333"/>
<g fill="none" stroke="#5f5f5f" stroke-width="9">
<path d="M650 1030Q900 1010 1060 880"/><path d="M645 1065Q900 1045 1080 900"/><path d="M640 1100Q890 1075 1075 935"/><path d="M635 1135Q860 1110 1040 985"/>
</g>
<g fill="none" stroke="#2e2e2e" stroke-width="9">
<path d="M650 1047Q900 1028 1070 890"/><path d="M645 1082Q895 1060 1078 918"/><path d="M638 1118Q875 1093 1058 960"/>
</g>
<path d="M1105 720Q1120 800 1075 900" stroke="#555" stroke-width="10" fill="none"/>
<path d="M915 890L1000 810 1092 718 1102 745 1015 855 918 945Z" fill="#1f1f1f"/>
<!-- cavity -->
<path d="M212 328L330 335 500 355 640 395 720 455 745 530 720 610 640 680 590 702 450 672 300 662 270 620 210 480Z" fill="url(#gbC)" stroke="#3b3b3b" stroke-width="10"/>
<path d="M215 345Q420 350 640 420M215 385Q420 385 660 470" stroke="#474747" stroke-width="7" fill="none"/>
<path d="M215 365Q420 368 650 445" stroke="#262626" stroke-width="7" fill="none"/>
<!-- top face -->
<path d="M110 200Q115 165 140 150Q190 115 250 100Q350 85 450 90Q540 95 620 115Q710 140 800 180Q890 220 960 270Q1030 320 1080 370Q1120 420 1140 470Q1155 510 1155 560L1150 645Q1130 675 1100 705L1000 805 910 885 900 962Q800 985 700 992L560 982 520 962 400 922Q385 890 390 860Q400 830 420 810L540 740 640 680Q700 650 720 610Q750 570 745 530Q740 480 720 450Q690 410 640 390Q570 365 500 352L330 332 210 316 150 326 105 290Z" fill="#595959"/>
<path d="M400 922L520 962 560 982 700 992Q800 985 900 962L905 925Q800 955 700 960L570 950Z" fill="#474747"/>
<path d="M105 290L150 326 210 316 212 300 155 308 112 272Z" fill="#444"/>
<!-- leader -->
<path d="M945 640H985" stroke="#fff" stroke-width="42" stroke-linecap="round"/>
<path d="M952 640H1430" stroke="#000" stroke-width="16"/>
</g>

<g id="cutguard" transform="translate(40 1440) scale(0.189274)">
<!-- base plate -->
<path d="M93 934Q55 910 94 887L730 519Q769 496 807 520L1122 721Q1160 745 1121 768L494 1142Q455 1165 417 1141Z" fill="#fff" stroke="#000" stroke-width="24" stroke-linejoin="round"/>
<path d="M117 927Q92 911 118 896L742 535Q768 520 793 536L1095 729Q1120 745 1094 760L483 1125Q457 1140 432 1124Z" class="k" stroke-width="10"/>
<path d="M160 915L400 775 600 900 310 1005Q290 1005 275 990Z" class="w" stroke-width="10.8"/>
<path d="M320 1030Q330 1005 360 1000L430 1060 440 1100Z" class="w" stroke-width="10.8"/>
<!-- pipe -->
<path d="M870 110V330L1000 520 1050 700 1075 690 1100 120Z" fill="#fff" stroke="#000" stroke-width="19.2" stroke-linejoin="round"/>
<path d="M1030 175L1075 170 1062 690 1040 700 1018 560Z" class="b"/>
<path d="M1086 150L1070 690" stroke="#fff" stroke-width="6"/>
<ellipse cx="985" cy="115" rx="115" ry="66" class="w" stroke-width="19.2"/>
<ellipse cx="990" cy="120" rx="96" ry="52" class="w" stroke-width="8.4"/>
<!-- guard shell silhouette -->
<path d="M345 1050L350 900Q370 760 440 600Q490 490 545 400Q600 440 640 420Q720 380 810 355L950 420Q1010 500 1040 620L1052 735Q1030 790 1000 790L950 780 900 700Q870 620 800 612Q700 650 640 760L610 870 600 910 480 1000H450L435 1092Z" fill="#fff" stroke="#000" stroke-width="20.4" stroke-linejoin="round"/>
<!-- arch interior -->
<path d="M740 655Q770 625 800 612Q840 608 870 640L905 715 640 868 625 850Q700 800 740 655Z" class="b"/>
<path d="M610 870Q615 790 665 715Q700 670 738 650Q735 760 625 850Z" class="w" stroke-width="9.6"/>
<!-- front face edge -->
<path d="M436 1090Q430 950 478 770Q540 600 680 480Q790 410 890 400" class="k" stroke-width="19.2"/>
<path d="M455 1000Q450 900 520 740Q600 590 720 500Q830 430 940 425" class="k" stroke-width="9.6"/>
<path d="M940 425Q1000 520 1030 640L1040 720" class="k" stroke-width="9.6"/>
<!-- hinge -->
<circle cx="1040" cy="755" r="30" class="w" stroke-width="16.8"/>
<circle cx="1045" cy="757" r="17" fill="#fff" stroke="#999" stroke-width="4.8"/>
<!-- boss -->
<path d="M812 300Q835 270 865 285L950 335 920 405 820 355Q795 335 812 300Z" class="w" stroke-width="19.2"/>
<ellipse cx="937" cy="372" rx="28" ry="36" transform="rotate(20 937 372)" class="w" stroke-width="15.6"/>
<ellipse cx="938" cy="374" rx="13" ry="19" transform="rotate(20 938 374)" class="b"/>
<!-- stud -->
<path d="M432 382L520 426" stroke="#000" stroke-width="26" stroke-linecap="round"/>
<!-- slotted bar -->
<path d="M535 420Q560 385 600 405Q625 425 612 470Q560 580 490 730L425 880 365 870Q390 730 455 580Q495 490 535 420Z" class="w" stroke-width="20.4"/>
<path d="M548 445Q565 430 575 448Q540 520 500 600Q450 720 415 840L395 835Q430 700 480 590Q515 510 548 445Z" class="w" stroke-width="10"/>
<path d="M545 450L575 450 565 475 535 470Z" class="b"/>
<!-- wing nut -->
<path d="M305 890Q300 830 330 800L395 775 420 800 410 860 360 880 330 900Z" class="w" stroke-width="13.2"/>
<ellipse cx="338" cy="848" rx="27" ry="40" transform="rotate(-10 338 848)" class="b"/>
<path d="M370 800L400 790 408 850 380 865" class="k" stroke-width="10.8"/>
<!-- leader -->
<path d="M690 1008V1040" stroke="#fff" stroke-width="10"/>
<path d="M697 1023H1255" stroke="#000" stroke-width="11.500"/>
</g>

<g id="elbow" transform="translate(245 1405) scale(0.126183)">
<path d="M95 900L120 400Q150 290 260 190Q330 145 400 140Q460 135 520 145L760 185 800 170 1000 200Q1060 230 1070 300Q1075 370 1050 420Q1020 480 970 495L760 460 735 435 700 398 440 385Q395 390 385 440L362 920Q300 950 230 940Q140 930 95 900Z" fill="#fff" stroke="#000" stroke-width="30" stroke-linejoin="round"/>
<path d="M262 915L288 420Q300 350 345 325Q375 305 410 305L740 340 790 343 790 376 740 372 700 395 440 362Q370 370 347 440L320 925Z" class="b"/>
<path d="M338 915L362 450Q375 385 440 375L700 405" class="k" stroke-width="5" stroke="#000"/>
<path d="M765 185Q710 240 700 320Q700 400 760 460" class="k" stroke-width="20"/>

<ellipse cx="990" cy="348" rx="78" ry="150" transform="rotate(6 990 348)" class="w" stroke-width="22"/>
<ellipse cx="975" cy="348" rx="52" ry="108" transform="rotate(6 975 348)" class="w" stroke-width="30"/>
<path d="M790 312H1090V376H790Z" fill="#fff"/>
<path d="M812 343H1835" stroke="#000" stroke-width="17"/>
</g>

<g id="hood">
<defs>
<linearGradient id="hdT" x1="0" y1="0.200" x2="1" y2="0.600"><stop offset="0" stop-color="#383838"/><stop offset="0.45" stop-color="#6a6a6a"/><stop offset="0.8" stop-color="#505050"/><stop offset="1" stop-color="#3c3c3c"/></linearGradient>
<linearGradient id="hdP" x1="0" y1="0" x2="1" y2="1"><stop offset="0" stop-color="#3e3e3e"/><stop offset="0.5" stop-color="#555"/><stop offset="1" stop-color="#636363"/></linearGradient>
<linearGradient id="hdR" x1="0" y1="0" x2="1" y2="0"><stop offset="0" stop-color="#bdbdbd"/><stop offset="0.5" stop-color="#d9d9d9"/><stop offset="1" stop-color="#b0b0b0"/></linearGradient>
<pattern id="brA" width="9" height="40" patternUnits="userSpaceOnUse"><rect width="9" height="40" fill="#111"/><rect x="6" width="1.600" height="40" fill="#4a4a4a"/></pattern>
<pattern id="brB" width="11" height="40" patternUnits="userSpaceOnUse" patternTransform="rotate(-4)"><rect width="11" height="40" fill="#0c0c0c"/><rect x="7" width="2.200" height="40" fill="#bbb"/></pattern>
</defs>
<g transform="translate(780 1405) scale(0.157729)">
<!-- pin -->
<path d="M95 1040L72 1105" stroke="#111" stroke-width="12"/>
<path d="M108 1040L92 1100" stroke="#888" stroke-width="6"/>
<!-- brush -->
<path d="M680 1340A545 293 0 0 0 1196 1045L1203 1150Q1160 1275 1050 1362Q900 1425 690 1462Z" fill="url(#brA)"/>
<!-- plate -->
<path d="M590 680A545 293 0 0 1 1195 968V1053A545 293 0 0 1 680 1346L600 1312V1262L560 1200 500 1182 510 1150 440 1130 410 1100 250 1040 140 1000 130 1050H95L70 980Q80 920 100 880Q150 830 200 800L230 760Z" fill="url(#hdP)"/>
<path d="M1195 968A545 293 0 0 1 650 1261L600 1262V1312L680 1346A545 293 0 0 0 1195 1053Z" fill="#656565"/>
<path d="M440 1130Q640 1180 840 1120Q1000 1060 1010 930Q1000 800 820 740Q700 715 590 720L420 860 380 1000Z" fill="#474747"/>
<path d="M760 1262L800 1258 800 1290 760 1295ZM1075 1130L1100 1110 1120 1135 1095 1150ZM250 1000L300 990 330 1020 280 1035ZM450 1100L500 1095 530 1125 480 1140Z" fill="#2e2e2e"/>
<path d="M800 1275L980 1225" stroke="#333" stroke-width="10"/>
<path d="M830 1245Q920 1215 990 1190" stroke="#2c2c2c" stroke-width="4" stroke-dasharray="6 8" fill="none"/>
<path d="M370 1030L440 1010 470 1050 400 1070Z" fill="#333"/>
<!-- tube -->
<path d="M430 100Q460 75 500 75L620 85Q690 100 730 140Q765 180 770 220L740 340 700 430 660 462 640 480 590 620 580 690 420 850 260 840 200 830 230 760 300 560 370 300 410 140Z" fill="url(#hdT)"/>
<path d="M370 262Q500 285 640 335Q690 370 700 430L660 462Q640 395 590 365Q480 320 362 300Z" fill="#777" opacity="0.700"/>
<path d="M480 130L620 150 572 236 490 214Z" fill="#7a7a7a"/>
<path d="M512 152L560 146 590 186 546 216 506 196Z" fill="#fff"/>
<!-- ring -->
<ellipse cx="660" cy="925" rx="245" ry="145" fill="#cfcfcf"/>
<path d="M700 1068Q860 1050 900 950L870 900 800 1000Z" fill="#bdbdbd"/>
<g fill="#f4f4f4"><path d="M760 1030l50-28 8 12-50 28zM810 1000l40-30 8 12-40 30zM845 962l25-35 10 10-25 35zM862 915l8-30 12 5-8 30z"/></g>
<path d="M430 850A205 112 0 0 1 840 850V930A205 120 0 0 1 430 930Z" fill="url(#hdR)"/>
<ellipse cx="635" cy="850" rx="205" ry="112" fill="#d4d4d4"/>
<ellipse cx="632" cy="862" rx="185" ry="96" fill="#b9b9b9"/>
<g fill="none" stroke="#9a9a9a" stroke-width="5"><path d="M490 800l50-15v40l-50 18zM620 770h45v38h-45zM760 795l50 20v38l-50-20z"/></g>
<ellipse cx="625" cy="900" rx="178" ry="88" fill="#fff"/>
<path d="M447 900A178 88 0 0 0 803 900A178 70 0 0 1 447 900Z" fill="#c6c6c6"/>
<ellipse cx="625" cy="893" rx="176" ry="76" fill="#fff"/>
<!-- leader 1 -->
<path d="M955 925H1000" stroke="#fff" stroke-width="38" stroke-linecap="round"/>
<path d="M962 925H1750" stroke="#000" stroke-width="14"/>
</g>
<!-- segment -->
<g transform="translate(700 1580) scale(0.126183)">
<path d="M112 250L125 240 170 320 280 420 440 520 640 600 850 640 1040 635 1045 780Q950 795 860 790Q770 785 680 765Q570 740 480 700Q380 650 300 590Q230 530 180 470Q140 410 120 360Z" fill="url(#brB)"/>
<path d="M135 110L170 75 220 55 215 100 190 135 230 150 290 165 340 140 400 145 410 180 440 155 500 160 520 190 510 230 540 235 620 175 760 255 720 290 770 320 750 380 770 410 820 390 870 420 890 460 860 490 930 560 1000 570 1100 560 1110 600 1040 635 850 640 640 600 440 520 280 420 170 320 125 240Z" fill="#5a5a5a"/>
<path d="M540 235L620 175 760 255 720 290 770 320 750 380 770 410 930 560 860 560 700 420 600 330Z" fill="#666"/>
<path d="M620 175L760 255 735 270 600 190Z" fill="#3c3c3c"/>
<path d="M128 245Q170 320 280 420Q350 470 440 520Q540 565 640 600Q750 630 850 640Q950 645 1040 635L1105 598" stroke="#6f6f6f" stroke-width="34" fill="none"/>
<path d="M135 225Q180 305 290 400Q440 505 650 580Q850 625 1040 615L1100 575" stroke="#888" stroke-width="6" fill="none"/>
<path d="M300 360L460 195M550 495L700 330" stroke="#8a8a8a" stroke-width="12"/>
<path d="M312 365L472 200M562 500L712 335" stroke="#3e3e3e" stroke-width="7"/>
<path d="M170 255L205 245 225 270 190 285Z" fill="#2a2a2a"/>
<path d="M680 545L745 550 745 575 680 570Z" fill="#2e2e2e"/>
<circle cx="437" cy="287" r="12" fill="#2d2d2d"/>
<path d="M480 300L600 370" stroke="#2d2d2d" stroke-width="18" stroke-dasharray="10 6"/>
<path d="M400 430L470 360" stroke="#333" stroke-width="30" stroke-dasharray="4 5"/>
<!-- leader 2 -->
<path d="M1025 725H1050" stroke="#fff" stroke-width="40" stroke-linecap="round"/>
<path d="M1032 725H2820" stroke="#000" stroke-width="17.500"/>
</g>
<path d="M923.700 1626.200L1006.700 1671.500" class="ld" stroke-width="2.200"/>
</g>

<g id="leaders" class="ld">
<path d="M216.500 343V368"/>
</g>

<g id="labels" style="filter:grayscale(1)">
<text x="615.5" y="136.8" textLength="219.0" lengthAdjust="spacingAndGlyphs">M14: 1 605 703 099</text>
<text x="616.5" y="202.5" textLength="227.5" lengthAdjust="spacingAndGlyphs">1 600 210 039 (M14)</text>
<text x="621.5" y="416.0" textLength="219.0" lengthAdjust="spacingAndGlyphs">M14: 1 603 345 043</text>
<text x="310.5" y="550.0" textLength="219.0" lengthAdjust="spacingAndGlyphs">M14: 1 607 950 043</text>
<text x="280.0" y="714.0" textLength="158.5" lengthAdjust="spacingAndGlyphs">1 602 025 024</text>
<text x="280.0" y="779.0" textLength="158.5" lengthAdjust="spacingAndGlyphs">1 601 329 013</text>
<text x="849.5" y="705.0" textLength="159.5" lengthAdjust="spacingAndGlyphs">2 608 900 000</text>
<text x="849.5" y="778.5" textLength="159.5" lengthAdjust="spacingAndGlyphs">1 601 329 013</text>
<text x="301.0" y="893.0" textLength="107.5" lengthAdjust="spacingAndGlyphs">Ø 115 mm</text>
<text x="453.5" y="893.0" textLength="158.0" lengthAdjust="spacingAndGlyphs">1 605 510 364</text>
<text x="301.0" y="924.0" textLength="107.5" lengthAdjust="spacingAndGlyphs">Ø 125 mm</text>
<text x="453.5" y="924.0" textLength="158.0" lengthAdjust="spacingAndGlyphs">1 605 510 365</text>
<text x="933.0" y="890.0" textLength="108.5" lengthAdjust="spacingAndGlyphs">Ø 115 mm</text>
<text x="1073.5" y="890.0" textLength="160.0" lengthAdjust="spacingAndGlyphs">2 605 510 256</text>
<text x="933.0" y="920.6" textLength="108.5" lengthAdjust="spacingAndGlyphs">Ø 125 mm</text>
<text x="1073.5" y="920.6" textLength="160.0" lengthAdjust="spacingAndGlyphs">2 605 510 257</text>
<text x="297.5" y="1166.0" textLength="160.5" lengthAdjust="spacingAndGlyphs">Ø 115/125 mm</text>
<text x="483.5" y="1166.0" textLength="158.0" lengthAdjust="spacingAndGlyphs">1 600 A00 3DK</text>
<text x="297.5" y="1197.0" textLength="109.0" lengthAdjust="spacingAndGlyphs">Ø 125 mm</text>
<text x="483.5" y="1197.0" textLength="156.0" lengthAdjust="spacingAndGlyphs">1 600 A00 3DJ</text>
<text x="932.5" y="1108.0" textLength="109.0" lengthAdjust="spacingAndGlyphs">Ø 125 mm</text>
<text x="1073.5" y="1108.0" textLength="160.0" lengthAdjust="spacingAndGlyphs">2 608 000 756</text>
<text x="932.5" y="1253.8" textLength="109.0" lengthAdjust="spacingAndGlyphs">Ø 115 mm</text>
<text x="1073.5" y="1253.8" textLength="160.0" lengthAdjust="spacingAndGlyphs">2 608 000 754</text>
<text x="932.5" y="1283.7" textLength="109.0" lengthAdjust="spacingAndGlyphs">Ø 125 mm</text>
<text x="1073.5" y="1283.7" textLength="160.0" lengthAdjust="spacingAndGlyphs">2 608 000 757</text>
<text x="482.5" y="1458.0" textLength="157.0" lengthAdjust="spacingAndGlyphs">1 600 793 007</text>
<text x="289.5" y="1642.5" textLength="161.0" lengthAdjust="spacingAndGlyphs">Ø 115/125 mm</text>
<text x="482.5" y="1642.5" textLength="158.0" lengthAdjust="spacingAndGlyphs">2 605 510 264</text>
<text x="1076.1" y="1558.0" textLength="157.4" lengthAdjust="spacingAndGlyphs">2 608 000 882</text>
<text x="1076.1" y="1591.5" textLength="161.0" lengthAdjust="spacingAndGlyphs">Ø 115/125 mm</text>
<text x="1076.1" y="1681.6" textLength="160.2" lengthAdjust="spacingAndGlyphs">2 608 000 883</text>
</g>
<rect x="1" y="1" width="1266" height="1868" fill="none" stroke="#000" stroke-width="2"/>
</svg>
</body></html>
